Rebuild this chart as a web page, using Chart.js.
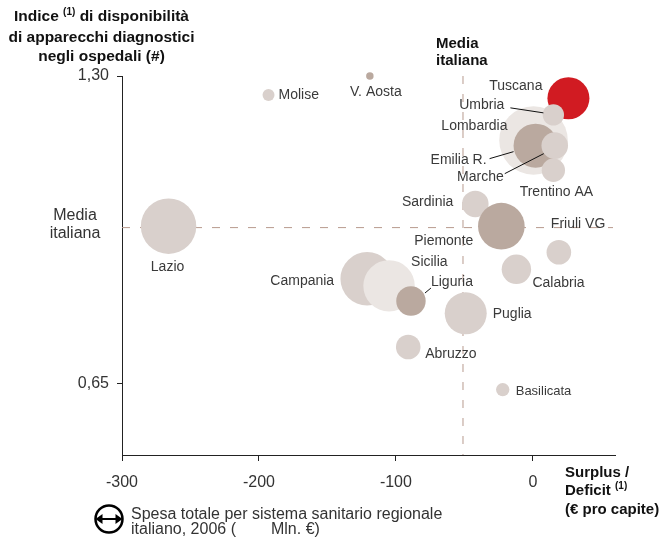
<!DOCTYPE html>
<html>
<head>
<meta charset="utf-8">
<script src="https://cdn.jsdelivr.net/npm/chart.js@4"></script>
<style>
  body { margin: 0; background: #fff; }
  #wrap { position: relative; width: 667px; height: 538px; font-family: "Liberation Sans", Arial, sans-serif; color: #111; }
  #wrap canvas { position: absolute; left: 0; top: 0; }
  .txt { position: absolute; white-space: nowrap; }
  .b { font-weight: bold; font-size: 15px; }
  .sup { font-size: 10px; position: relative; top: -6px; }
</style>
</head>
<body>
<div id="wrap">
  <canvas id="myBubbleChart" width="667" height="538"></canvas>
  <div class="txt b" style="left:1px; top:7px; width:201px; text-align:center; line-height:18.8px; font-size:15.5px;">
    Indice <span class="sup">(1)</span> di disponibilità<br>di apparecchi diagnostici<br>negli ospedali (#)
  </div>
  <div class="txt b" style="left:436px; top:34px; line-height:17px;">Media<br>italiana</div>
  <div class="txt" style="left:35px; top:206px; width:80px; text-align:center; font-size:16px; line-height:18px; color:#333;">Media<br>italiana</div>
  <div class="txt b" style="left:565px; top:463px; line-height:17.5px;">Surplus /<br>Deficit <span class="sup">(1)</span><br>(€ pro capite)</div>
  <div class="txt" style="left:131px; top:507px; font-size:16px; line-height:14.5px; color:#333;">
    Spesa totale per sistema sanitario regionale<br>italiano, 2006 (<span style="display:inline-block;width:35px"></span>Mln. €)
  </div>
</div>
<script>
// regioni, surplus/deficit (€ pro capite), indice, spesa sanitaria 2006 (Mln €)
const regioni = ['Lazio', 'Molise', 'V. Aosta', 'Campania', 'Sicilia', 'Liguria', 'Abruzzo', 'Puglia',
    'Sardinia', 'Piemonte', 'Calabria', 'Friuli VG', 'Basilicata', 'Tuscana', 'Lombardia', 'Emilia R.',
    'Marche', 'Umbria', 'Trentino AA'];
const surplus = [-266, -193, -119, -121, -105, -89, -91, -49, -42, -23, -12, 19, -22, 26, 0.5, 2, 16, 15, 15];
const indice = [0.983, 1.26, 1.30, 0.872, 0.857, 0.825, 0.728, 0.799, 1.03, 0.983, 0.892, 0.928, 0.638,
    1.253, 1.164, 1.153, 1.153, 1.218, 1.101];
const spesa = [10450, 490, 190, 9700, 9000, 2950, 2060, 6000, 2400, 7400, 2950, 2060, 610, 6000, 16000,
    6600, 2400, 1550, 1850];
const gruppo = ['m', 'm', 'd', 'm', 'l', 'd', 'm', 'm', 'm', 'd', 'm', 'm', 'm', 'r', 'l', 'd', 'm', 'm', 'm'];

const mediaX = -51;
const mediaY = 0.98;
const xTicks = [-300, -200, -100, 0];
const yTicks = [0.65, 1.30];

const colori = { r: '#d11b22', d: '#baa99f', m: '#d9d0cc', l: '#ebe6e3' };
const scalaRaggio = 0.271;

// posizione etichette rispetto al centro della bolla
const etichette = {
    'Lazio': [-1, 41, 'center'], 'Molise': [10, 0, 'left'], 'V. Aosta': [6, 16, 'center'],
    'Campania': [-33, 2, 'right'], 'Sicilia': [22, -24, 'left'], 'Liguria': [20, -19, 'left'],
    'Abruzzo': [17, 7, 'left'], 'Puglia': [27, 1, 'left'], 'Sardinia': [-22, -2, 'right'],
    'Piemonte': [-28, 15, 'right'], 'Calabria': [16, 14, 'left'], 'Friuli VG': [-8, -28, 'left'],
    'Basilicata': [13, 2, 'left'], 'Tuscana': [-26, -12, 'right'], 'Lombardia': [-26, -14, 'right'],
    'Emilia R.': [-49, 14, 'right'], 'Marche': [-51, 31, 'right'], 'Umbria': [-49, -10, 'right'],
    'Trentino AA': [3, 22, 'center']
};
const linee = {
    'Umbria': [-43, -7, -10, -2], 'Emilia R.': [-46, 13, -22, 6],
    'Marche': [-50, 28, -11, 8], 'Liguria': [20, -13, 14, -8]
};

const overlay = {
    id: 'overlay',
    beforeDatasetsDraw(chart) {
        const { ctx, chartArea, scales } = chart;
        const px = scales.x.getPixelForValue(mediaX);
        const py = scales.y.getPixelForValue(mediaY);
        ctx.save();
        ctx.strokeStyle = '#b89a8e';
        ctx.lineWidth = 1;
        ctx.setLineDash([8, 10]);
        ctx.beginPath();
        ctx.moveTo(px, chartArea.top);
        ctx.lineTo(px, chartArea.bottom);
        ctx.moveTo(chartArea.left, py);
        ctx.lineTo(chartArea.right - 2, py);
        ctx.stroke();
        ctx.restore();
    },
    afterDatasetsDraw(chart) {
        const { ctx } = chart;
        const meta = chart.getDatasetMeta(0);
        ctx.save();
        ctx.fillStyle = '#3a3a3a';
        ctx.strokeStyle = '#111';
        ctx.lineWidth = 1;
        ctx.textBaseline = 'middle';
        regioni.forEach((nome, i) => {
            const p = meta.data[i];
            const e = etichette[nome];
            ctx.font = (nome === 'Basilicata' ? '13px' : '14px') + ' "Liberation Sans", Arial, sans-serif';
            ctx.textAlign = e[2];
            ctx.fillText(nome, p.x + e[0], p.y + e[1]);
            const l = linee[nome];
            if (l) {
                ctx.beginPath();
                ctx.moveTo(p.x + l[0], p.y + l[1]);
                ctx.lineTo(p.x + l[2], p.y + l[3]);
                ctx.stroke();
            }
        });
        ctx.restore();
    },
    afterDraw(chart) {
        // icona legenda
        const ctx = chart.ctx;
        const cx = 109, cy = 519, r = 13.5;
        ctx.save();
        ctx.strokeStyle = '#000';
        ctx.fillStyle = '#000';
        ctx.lineWidth = 2.5;
        ctx.beginPath();
        ctx.arc(cx, cy, r, 0, Math.PI * 2);
        ctx.stroke();
        ctx.lineWidth = 2;
        ctx.beginPath();
        ctx.moveTo(cx - r + 5, cy);
        ctx.lineTo(cx + r - 5, cy);
        ctx.stroke();
        [-1, 1].forEach(s => {
            ctx.beginPath();
            ctx.moveTo(cx + s * r, cy);
            ctx.lineTo(cx + s * (r - 7), cy - 5);
            ctx.lineTo(cx + s * (r - 7), cy + 5);
            ctx.closePath();
            ctx.fill();
        });
        ctx.restore();
    }
};

Chart.defaults.font.family = '"Liberation Sans", Arial, sans-serif';

const ctx = document.getElementById('myBubbleChart').getContext('2d');
new Chart(ctx, {
    type: 'bubble',
    data: {
        datasets: [{
            data: regioni.map((n, i) => ({ x: surplus[i], y: indice[i], r: Math.sqrt(spesa[i]) * scalaRaggio })),
            backgroundColor: gruppo.map(g => colori[g]),
            hoverBackgroundColor: gruppo.map(g => colori[g]),
            borderWidth: 0,
            hoverBorderWidth: 0,
            hoverRadius: 0,
            clip: false
        }]
    },
    options: {
        responsive: false,
        animation: false,
        events: [],
        layout: { padding: { top: 76, right: 52, left: 0, bottom: 0 } },
        plugins: {
            legend: { display: false },
            tooltip: { enabled: false }
        },
        scales: {
            x: {
                type: 'linear',
                min: -300,
                max: 60,
                afterBuildTicks: scale => { scale.ticks = xTicks.map(v => ({ value: v })); },
                afterFit: scale => { scale.height = 83; },
                grid: { drawOnChartArea: false, tickLength: 6, color: '#222' },
                border: { display: true, color: '#222', width: 1 },
                ticks: { font: { size: 16 }, color: '#333', padding: 12, maxRotation: 0 }
            },
            y: {
                type: 'linear',
                min: 0.5,
                max: 1.3,
                afterBuildTicks: scale => { scale.ticks = yTicks.map(v => ({ value: v })); },
                afterFit: scale => { scale.width = 122; },
                grid: { drawOnChartArea: false, tickLength: 5, color: '#222' },
                border: { display: true, color: '#222', width: 1 },
                ticks: {
                    font: { size: 16 },
                    color: '#333',
                    padding: 8,
                    callback: v => v.toFixed(2).replace('.', ',')
                }
            }
        }
    },
    plugins: [overlay]
});
</script>
</body>
</html>
